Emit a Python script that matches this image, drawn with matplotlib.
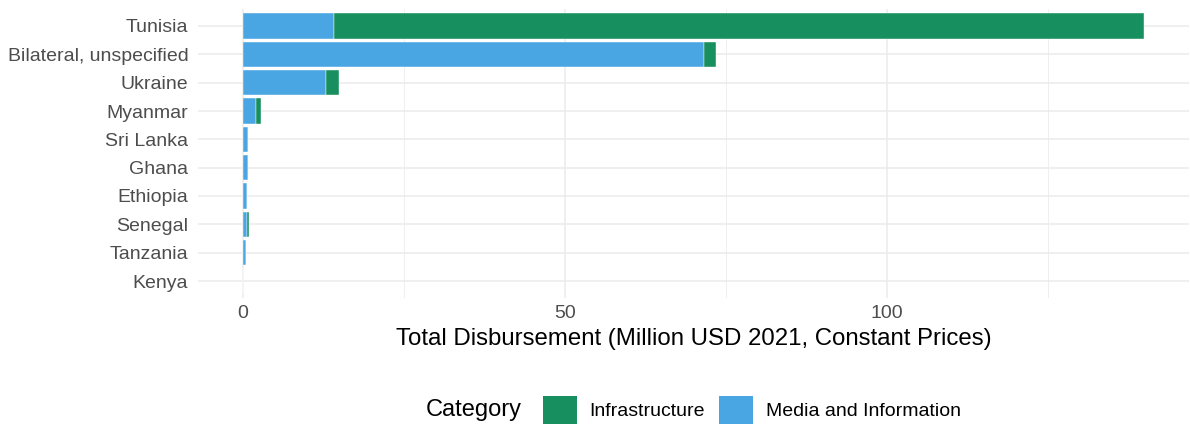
import matplotlib
matplotlib.use("Agg")
import matplotlib.pyplot as plt
from matplotlib.patches import Patch
from matplotlib.offsetbox import HPacker
import numpy as np

plt.rcParams["font.family"] = ["Liberation Sans", "DejaVu Sans"]

# data, top to bottom as drawn
countries = ["Tunisia", "Bilateral, unspecified", "Ukraine", "Myanmar", "Sri Lanka",
             "Ghana", "Ethiopia", "Senegal", "Tanzania", "Kenya"]
media = [14.1, 71.6, 12.9, 2.0, 0.83, 0.83, 0.57, 0.62, 0.42, 0.05]
infra = [125.8, 1.8, 2.0, 0.75, 0.0, 0.0, 0.0, 0.3, 0.0, 0.0]

GREEN = "#178F5F"
BLUE = "#4AA6E3"
GRID = "#EBEBEB"

fig = plt.figure(figsize=(11.9, 4.25), dpi=100)
ax = fig.add_axes([198 / 1190, 127 / 425, 991 / 1190, 289 / 425])

y = np.arange(len(countries))[::-1] + 1
media = np.array(media)
infra = np.array(infra)
ax.barh(y, media, height=0.9, color=BLUE, edgecolor="white", linewidth=0.3, zorder=3)
ax.barh(y, infra, left=media, height=0.9, color=GREEN, edgecolor="white",
        linewidth=0.3, zorder=3)

total = (media + infra).max()
ax.set_xlim(-0.05 * total, total * 1.05)
ax.set_ylim(0.4, len(countries) + 0.6)

ax.set_yticks(y)
ax.set_yticklabels(countries)
ax.set_xticks([0, 50, 100])
ax.set_xticks([25, 75, 125], minor=True)
ax.tick_params(axis="both", which="both", length=0, labelsize=14, labelcolor="#4D4D4D")
ax.tick_params(axis="y", pad=7)
ax.tick_params(axis="x", pad=5)
ax.grid(True, which="major", color=GRID, linewidth=1.1, zorder=0)
ax.grid(True, which="minor", axis="x", color=GRID, linewidth=0.55, zorder=0)
for s in ax.spines.values():
    s.set_visible(False)
ax.set_axisbelow(True)

ax.set_xlabel("Total Disbursement (Million USD 2021, Constant Prices)", fontsize=17.3,
              color="black", labelpad=4)

# legend centred under the panel, not the figure
panel_mid = (198 + 1189) / 2 / 1190
handles = [Patch(facecolor=GREEN, label="Infrastructure"),
           Patch(facecolor=BLUE, label="Media and Information")]
leg = fig.legend(handles=handles, title="Category", loc="center",
                 bbox_to_anchor=(panel_mid, 15 / 425), ncol=2, frameon=False,
                 fontsize=14, title_fontsize=17, handlelength=1.75,
                 handleheight=1.8, handletextpad=0.67, columnspacing=0.72)
# title sits left of the keys, like ggplot's bottom legend
box = leg._legend_box
box.__class__ = HPacker
box.sep = 15
box.align = "center"

fig.savefig("out.png", dpi=100, facecolor="white")
